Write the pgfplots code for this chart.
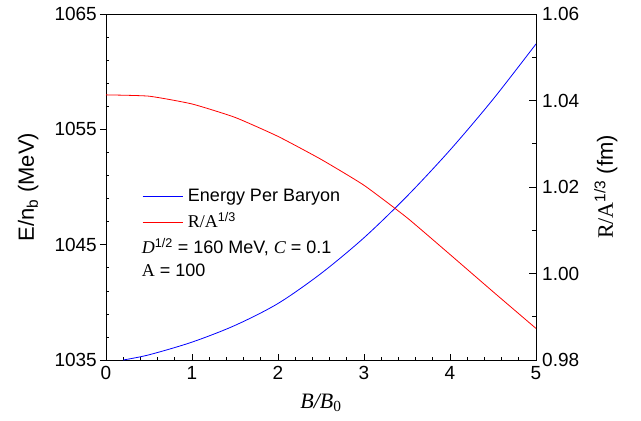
\documentclass[border=0pt]{standalone}
\usepackage{pgfplots}
\pgfplotsset{compat=1.18}
\usepackage{fontspec}
\setmainfont{Liberation Sans}
\newfontfamily\serif{Liberation Serif}
\newcommand{\fs}{\fontsize{18}{21}\selectfont}
\newcommand{\fst}{\fontsize{19}{22}\selectfont}
\newcommand{\fsl}{\fontsize{22}{26}\selectfont}

\pgfplotstableread{
x E
0.2 1035.0
0.5 1035.45
1.0 1036.55
1.5 1038.0
2.0 1039.9
2.5 1042.5
3.0 1045.6
3.5 1049.2
4.0 1053.2
4.5 1057.6
5.0 1062.4
}\energy

\pgfplotstableread{
x R
0.0 1.0413
0.5 1.0410
1.0 1.0392
1.5 1.0361
2.0 1.0317
2.5 1.0264
3.0 1.0204
3.5 1.0129
4.0 1.0044
4.5 0.9958
5.0 0.9873
}\radius

\begin{document}
\fs
\begin{tikzpicture}[font=\fs]
\pgfplotsset{
  /pgf/number format/assume math mode=true,
  /pgf/number format/1000 sep={},
}
\begin{axis}[
  name=main,
  font=\fs,
  tick label style={font=\fst},
  label style={font=\fsl},
  scale only axis, width=430pt, height=346pt,
  xmin=0, xmax=5, ymin=1035, ymax=1065,
  xtick={0,1,2,3,4,5}, minor x tick num=4,
  ytick={1035,1045,1055,1065}, minor y tick num=4,
  xtick pos=bottom, ytick pos=left,
  tick align=inside,
  major tick length=6pt, minor tick length=3.5pt,
  major y tick style={xshift=-6pt},
  yticklabel style={xshift=-3pt},
  scaled y ticks=false,
  tick style={black, line width=0.6pt},
  axis line style={line width=0.8pt},
  xlabel={{\serif\itshape B/B}\textsubscript{\serif 0}},
  xlabel style={at={(axis description cs:0.5,-0.139)}, anchor=base},
  ylabel={E/n\textsubscript{b} (MeV)},
  ylabel style={at={(axis description cs:-0.168,0.5)}, anchor=base},
  legend style={font=\fs, at={(rel axis cs:0.0837,0.434)}, anchor=west, draw=none, fill=none,
    inner sep=0pt, row sep=9pt, nodes={inner sep=0pt, text height=13pt, text depth=4pt},
    /tikz/every odd column/.append style={column sep=5pt}},
  legend cell align=left,
]
\addplot[blue, line width=0.8pt, smooth, forget plot] table[x=x, y=E] {\energy};
\addlegendimage{blue, line width=0.8pt, legend image code/.code={\draw[blue, line width=0.8pt] (0pt,0pt) -- (40pt,0pt);}}
\addlegendentry{Energy Per Baryon}
\addlegendimage{red, line width=0.8pt, legend image code/.code={\draw[red, line width=0.8pt] (0pt,0pt) -- (40pt,0pt);}}
\addlegendentry{{\serif R/A}\textsuperscript{1/3}}
\node[anchor=base west, inner sep=0pt, font=\fs] at (axis cs:0.415,1044.25)
  {{\serif\itshape D}\textsuperscript{1/2} = 160 MeV, {\serif\itshape C} = 0.1};
\node[anchor=base west, inner sep=0pt, font=\fs] at (axis cs:0.415,1042.2)
  {{\serif A} = 100};
\end{axis}
\begin{axis}[
  font=\fs,
  tick label style={font=\fst},
  label style={font=\fsl},
  scale only axis, width=430pt, height=346pt,
  xmin=0, xmax=5, ymin=0.98, ymax=1.06,
  axis x line=none, axis y line*=right,
  ytick={0.98,1.00,1.02,1.04,1.06}, minor y tick num=1,
  tick align=inside,
  major tick length=7pt, minor tick length=4pt,
  tick style={black, line width=0.6pt},
  axis line style={line width=0.8pt},
  scaled y ticks=false,
  yticklabel style={/pgf/number format/fixed, /pgf/number format/fixed zerofill, /pgf/number format/precision=2},
  ylabel={{\serif R/A}\textsuperscript{1/3} (fm)},
  ylabel style={at={(axis description cs:1.179,0.5)}, anchor=base},
]
\addplot[red, line width=0.8pt, smooth, tension=0.3] table[x=x, y=R] {\radius};
\end{axis}
\pgfresetboundingbox
\path (main.south west) ++(-106pt,-61pt) rectangle ++(641pt,421pt);
\end{tikzpicture}
\end{document}
